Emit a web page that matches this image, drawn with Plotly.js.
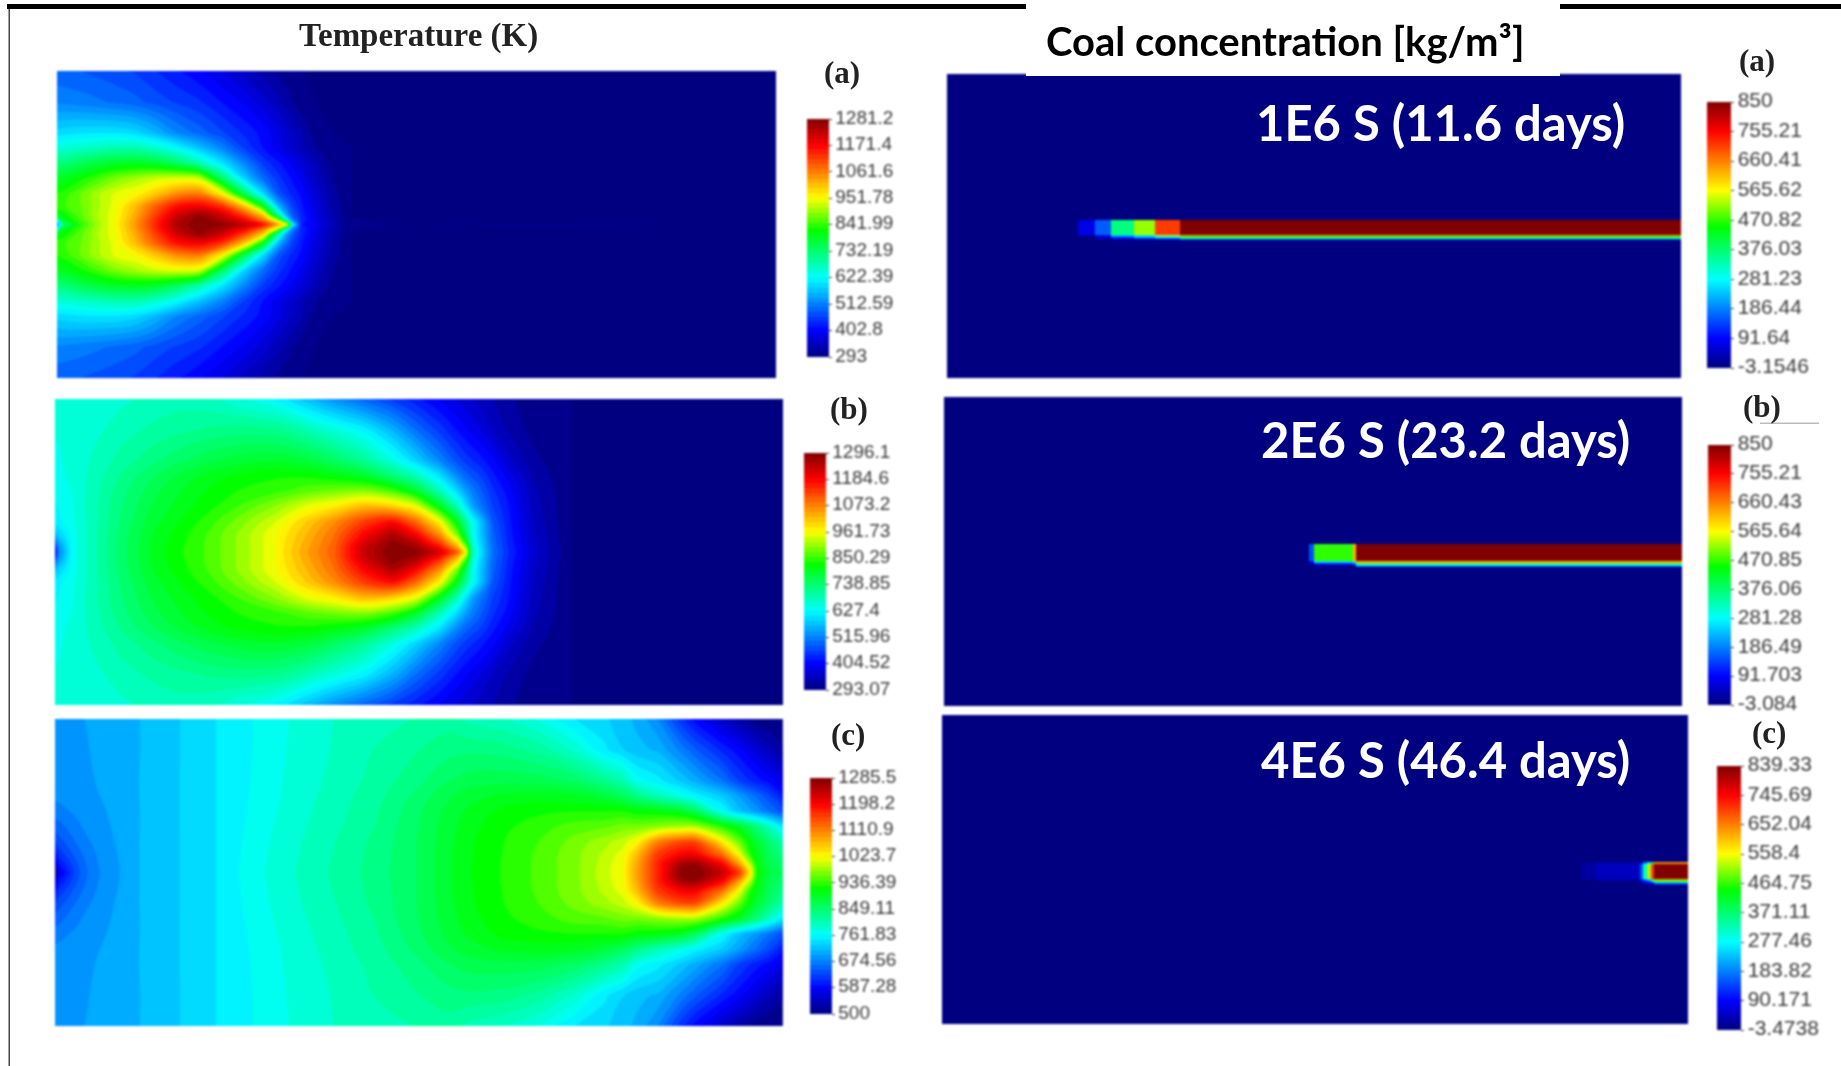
<!DOCTYPE html>
<html><head><meta charset="utf-8">
<script src="https://cdn.plot.ly/plotly-3.0.1.min.js"></script>
<style>
html,body{margin:0;padding:0;background:#fff}
#g{width:1841px;height:1066px}
.cartesianlayer,.colorbar{filter:blur(0.8px)}
.colorbar text{translate:0 -2px}
</style></head><body><div id="g"></div>
<script>
const W=1841,H=1066;
const rowOffsets=[100,80,60,50,40,30,20,12,6,3,0];

const tempAX=[0,0.7,2.7,5.6,8,10.9,13.7,16.6,19.8,23,26.3,28.7,30.8,32,32.8,34,36,38.5,41,100];
const tempARows=[
[485,484,480,472,465,455,438,420,400,375,345,325,308,298,293,293,293,293,293,293],
[515,514,510,503,495,485,470,455,440,415,390,365,340,325,315,300,293,293,293,293],
[590,592,597,600,600,590,560,520,490,460,430,408,380,362,350,335,303,293,293,293],
[650,652,660,672,680,680,660,622,570,515,450,415,385,368,357,342,315,295,293,293],
[720,724,745,770,785,790,780,745,680,600,510,450,420,403,390,370,338,302,293,293],
[790,793,815,850,880,905,925,935,925,740,575,495,445,425,410,390,350,312,293,293],
[830,835,860,905,935,955,1000,1050,1065,960,740,590,475,445,430,410,365,320,293,293],
[840,845,860,905,940,1010,1090,1160,1180,1130,990,800,560,490,455,420,375,325,293,293],
[800,810,850,910,945,1025,1120,1210,1262,1215,1110,1000,700,540,480,430,380,330,293,293],
[650,790,840,905,948,1035,1135,1230,1275,1240,1170,1070,900,640,510,435,385,335,295,293],
[500,700,820,900,950,1040,1140,1240,1281.2,1265,1220,1160,1020,950,622,420,390,340,293,293]];

const tempBX=[0,0.5,2.5,5.7,9.3,13.4,17.4,21.4,25.5,30.3,34.3,38.3,42.4,46.4,49.6,52.9,55.3,56.5,57.3,58.1,60.1,62.5,65.8,71,100];
const tempBRows=[
[650,650,652,656,665,675,680,672,650,625,575,530,490,455,425,395,375,362,355,350,335,318,298,293,293],
[650,650,655,665,680,695,705,715,720,715,690,655,620,560,500,450,415,400,390,382,355,330,305,293,293],
[645,646,655,675,700,725,750,770,785,790,780,750,710,650,590,520,470,450,440,430,403,360,320,293,293],
[640,642,655,680,715,750,780,805,822,832,830,815,790,730,680,600,520,490,475,465,425,385,330,293,293],
[630,632,650,685,725,765,795,820,838,850,870,885,895,860,790,680,590,540,515,495,445,404,340,293,293],
[625,628,648,688,732,775,805,830,860,900,945,975,1020,1000,950,800,680,600,550,520,460,415,345,293,293],
[620,622,645,688,738,785,818,850,890,940,1000,1060,1130,1175,1090,960,800,700,640,595,480,420,350,293,293],
[560,590,640,690,742,795,828,862,905,958,1020,1085,1180,1250,1180,1050,880,750,650,600,490,425,355,293,293],
[480,550,640,690,745,798,832,865,905,962,1030,1095,1215,1285,1245,1130,985,830,660,610,495,430,360,293,293],
[420,530,640,690,745,800,835,865,905,962,1035,1100,1230,1293,1270,1180,1040,900,690,620,500,432,362,293,293],
[400,520,640,690,745,800,835,865,905,962,1040,1100,1230,1296,1285,1215,1100,962,680,627,500,435,365,293,293]];

const tempCX=[0,0.6,3,4.6,7,9.8,12.2,17.5,22.3,27.2,32.4,38.4,44.1,49.7,53.8,57,61.8,66.7,71.5,75.5,78,80,82.8,86,88,91.7,94,95.6,96.4,98.1,100];
const tempCRows=[
[690,691,695,697,702,708,714,730,746,762,779,795,803,812,820,806,795,775,745,732,720,708,680,620,590,550,525,510,505,500,500],
[690,691,694,696,701,707,714,730,746,762,780,796,812,826,836,840,836,820,790,750,730,718,710,675,650,610,588,570,560,540,520],
[688,689,692,694,700,706,715,730,746,763,782,799,817,838,858,868,870,868,855,830,810,770,752,725,705,665,630,612,605,590,570],
[684,685,690,693,698,705,715,730,746,764,783,802,821,848,872,885,897,900,895,880,860,835,805,775,755,725,695,670,660,635,600],
[672,674,684,690,696,704,715,730,746,765,785,804,825,855,880,897,915,922,925,925,925,915,910,895,860,765,720,700,690,665,640],
[655,658,675,686,694,703,715,730,746,767,787,807,828,858,884,903,922,935,950,955,965,965,975,985,985,930,895,860,840,800,745],
[630,640,665,678,692,702,716,730,746,769,789,810,832,860,886,906,926,943,965,985,1000,1030,1110,1150,1150,1035,960,905,885,850,810],
[590,620,655,672,690,701,716,730,746,770,790,812,833,860,888,907,927,946,970,995,1015,1070,1160,1200,1200,1120,1020,925,905,865,835],
[540,600,645,668,689,700,716,730,746,771,791,813,834,860,888,908,928,947,970,998,1022,1085,1175,1255,1265,1195,1085,980,910,870,850],
[520,588,642,666,688,700,716,730,746,772,792,814,835,860,888,908,928,947,970,1000,1024,1088,1175,1272,1284,1220,1130,1010,920,875,855],
[500,575,640,665,688,700,716,730,746,772,792,814,835,860,888,908,928,947,970,1000,1024,1090,1175,1275,1285.5,1235,1160,1024,925,880,860]];

const coalAX=[0,17.8,20.2,22.3,25.5,28.3,31.7,100];
const coalAY=[0,48,52.9,53.3,53.8,54.3,54.7,55.1,100];
const coalAZ=[
[-3.15,-3.15,-3.15,-3.15,-3.15,-3.15,-3.15],
[-3.15,74,160,365,518,711,850],
[-3.15,30,100,250,300,540,640],
[-3.15,-3.15,60,150,220,300,470],
[-3.15,-3.15,30,80,120,160,280],
[-3.15,-3.15,10,30,50,60,130],
[-3.15,-3.15,-3.15,-3.15,-3.15,-3.15,-3.15],
[-3.15,-3.15,-3.15,-3.15,-3.15,-3.15,-3.15]];

const coalBX=[0,49.5,50.1,55.4,55.8,100];
const coalBY=[0,47.7,53.2,53.7,54.2,54.6,55,100];
const coalBZ=[
[-3.08,-3.08,-3.08,-3.08,-3.08],
[-3.08,150,470,620,850],
[-3.08,80,250,350,620],
[-3.08,40,120,200,470],
[-3.08,15,50,80,280],
[-3.08,-3.08,15,30,130],
[-3.08,-3.08,-3.08,-3.08,-3.08]];

const coalCX=[0,85.6,87.6,93.5,94,94.5,95,95.5,100];
const coalCY=[0,47.7,48.3,53,53.5,54,54.5,55,100];
const coalCZ=[
[-3.47,-3.47,-3.47,-3.47,-3.47,-3.47,-3.47,-3.47],
[-3.47,15,30,100,180,260,400,640],
[-3.47,20,42,150,320,520,700,839],
[-3.47,10,25,120,200,260,400,620],
[-3.47,-3.47,10,60,120,170,260,470],
[-3.47,-3.47,-3.47,30,60,80,130,280],
[-3.47,-3.47,-3.47,10,20,30,50,130],
[-3.47,-3.47,-3.47,-3.47,-3.47,-3.47,-3.47,-3.47]];

const ticksTA=[1281.2,1171.4,1061.6,951.78,841.99,732.19,622.39,512.59,402.8,293];
const ticksTB=[1296.1,1184.6,1073.2,961.73,850.29,738.85,627.4,515.96,404.52,293.07];
const ticksTC=[1285.5,1198.2,1110.9,1023.7,936.39,849.11,761.83,674.56,587.28,500];
const ticksCA=[850,755.21,660.41,565.62,470.82,376.03,281.23,186.44,91.64,-3.1546];
const ticksCB=[850,755.21,660.43,565.64,470.85,376.06,281.28,186.49,91.703,-3.084];
const ticksCC=[839.33,745.69,652.04,558.4,464.75,371.11,277.46,183.82,90.171,-3.4738];

const jet=[[0,'rgb(0,0,128)'],[0.111,'rgb(0,0,255)'],[0.333,'rgb(0,255,255)'],[0.53,'rgb(0,255,0)'],[0.667,'rgb(255,255,0)'],[0.889,'rgb(255,0,0)'],[1,'rgb(128,0,0)']];

const rowsY=rowOffsets.concat(rowOffsets.slice(0,-1).reverse().map(v=>-v)).map(v=>-v);
const mirror=r=>r.concat(r.slice(0,-1).reverse());

// pixel boxes: panel [x0,x1,y0,y1], colour bar [x0,x1,y0,y1]
const panelBoxes=[[57,776,71,378],[55,783,399,705],[54.5,783,719,1026],[947,1681,74,378],[944,1682,397,706],[942,1688,715,1024]];
const barBoxes=[[807,828.5,119,357],[804,826,453,690],[810,832,778,1014],[1707,1730.5,102,368],[1708,1731,445,705],[1717,1740.5,766,1030]];

function cbar(i,ticks,fs){
  const b=barBoxes[i];
  return {x:b[0]/W,xanchor:'left',xref:'paper',y:1-b[3]/H,yanchor:'bottom',yref:'paper',
    lenmode:'pixels',len:b[3]-b[2],thicknessmode:'pixels',thickness:b[1]-b[0],xpad:0,ypad:0,
    outlinewidth:0,borderwidth:0,tickmode:'array',tickvals:ticks,ticktext:ticks.map(String),
    ticks:'outside',ticklen:3,tickcolor:'#333',tickfont:{family:'Liberation Sans',size:fs,color:'#3a3a3a'}};
}
function contour(i,xs,rows,ticks){
  const lo=ticks[ticks.length-1],hi=ticks[0];
  return {type:'contour',x:xs,y:rowsY,z:mirror(rows),xaxis:'x'+(i+1),yaxis:'y'+(i+1),colorscale:jet,
    zauto:false,zmin:lo,zmax:hi,autocontour:false,
    contours:{start:lo,end:hi,size:(hi-lo)/48,coloring:'fill',showlines:false},
    line:{width:0,smoothing:1},colorbar:cbar(i,ticks,19),hoverinfo:'skip'};
}
function heat(i,xs,ys,z,ticks){
  return {type:'heatmap',x:xs,y:ys,z:z,xaxis:'x'+(i+1),yaxis:'y'+(i+1),colorscale:jet,
    zauto:false,zmin:ticks[ticks.length-1],zmax:ticks[0],zsmooth:false,colorbar:cbar(i,ticks,21),hoverinfo:'skip'};
}
const data=[
 contour(0,tempAX,tempARows,ticksTA),contour(1,tempBX,tempBRows,ticksTB),contour(2,tempCX,tempCRows,ticksTC),
 heat(3,coalAX,coalAY,coalAZ,ticksCA),heat(4,coalBX,coalBY,coalBZ,ticksCB),heat(5,coalCX,coalCY,coalCZ,ticksCC)];

const layout={width:W,height:H,margin:{l:0,r:0,t:0,b:0},paper_bgcolor:'#fff',plot_bgcolor:'#fff',showlegend:false,
  shapes:[],annotations:[]};
panelBoxes.forEach((p,i)=>{
  const s=i?String(i+1):'';
  layout['xaxis'+s]={domain:[p[0]/W,p[1]/W],range:[0,100],visible:false,fixedrange:true,anchor:'y'+s};
  layout['yaxis'+s]={domain:[1-p[3]/H,1-p[2]/H],range:i<3?[100,-100]:[100,0],visible:false,fixedrange:true,anchor:'x'+s};
});
const rect=(x0,x1,y0,y1,c)=>({type:'rect',xref:'paper',yref:'paper',x0:x0/W,x1:x1/W,y0:1-y1/H,y1:1-y0/H,fillcolor:c,line:{width:0},layer:'above'});
layout.shapes=[rect(7,1841,4,9,'#000'),rect(1026,1560,0,76,'#fff'),rect(8.5,10,9,1066,'#444'),rect(1760,1819,422.5,424,'#bbb')];
const txt=(t,x,y,f,s,c,b)=>({text:b?'<b>'+t+'</b>':t,xref:'paper',yref:'paper',x:x/W,y:1-y/H,xanchor:'center',yanchor:'middle',showarrow:false,
  font:{family:f,size:s,color:c}});
const serif='Liberation Serif';
layout.annotations=[
 txt('Temperature (K)',418,36,serif,33,'#222',true),
 txt('(a)',842,72,serif,31,'#222',true),txt('(b)',849,408,serif,31,'#222',true),txt('(c)',848,734,serif,31,'#222',true),
 txt('(a)',1757,61,serif,31,'#222',true),txt('(b)',1762,406,serif,31,'#222',true),txt('(c)',1769,732,serif,31,'#222',true),
 txt('Coal concentration [kg/m³]',1285,41,'Lato',40,'#000',true),
 txt('1E6 S (11.6 days)',1440,122,'Lato',49,'#fff',true),
 txt('2E6 S (23.2 days)',1445,439,'Lato',49,'#fff',true),
 txt('4E6 S (46.4 days)',1445,759,'Lato',49,'#fff',true)];
Plotly.newPlot('g',data,layout,{displayModeBar:false,staticPlot:true});
</script></body></html>
